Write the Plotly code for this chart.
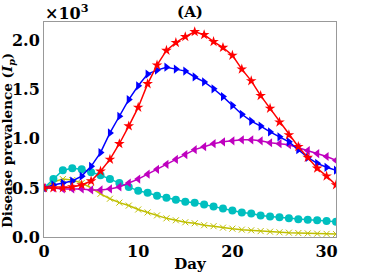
import plotly.graph_objects as go

days = list(range(32))
red = [0.5,0.5,0.5,0.51,0.53,0.57,0.67,0.79,0.95,1.13,1.32,1.56,1.75,1.90,1.98,2.04,2.09,2.06,1.99,1.93,1.85,1.71,1.59,1.44,1.31,1.17,1.04,0.92,0.81,0.70,0.62,0.53]
blue = [0.5,0.53,0.55,0.57,0.62,0.72,0.86,1.06,1.23,1.40,1.54,1.66,1.70,1.73,1.71,1.69,1.63,1.58,1.51,1.43,1.34,1.25,1.18,1.13,1.07,1.02,0.97,0.89,0.81,0.75,0.71,0.68]
magenta = [0.5,0.5,0.49,0.49,0.49,0.48,0.48,0.49,0.51,0.55,0.59,0.64,0.69,0.74,0.79,0.84,0.89,0.92,0.95,0.97,0.98,0.99,0.99,0.98,0.96,0.95,0.94,0.91,0.88,0.85,0.82,0.78]
cyan = [0.5,0.59,0.68,0.70,0.69,0.66,0.63,0.59,0.55,0.51,0.47,0.45,0.42,0.40,0.38,0.36,0.35,0.33,0.31,0.29,0.27,0.25,0.24,0.22,0.21,0.20,0.19,0.18,0.175,0.17,0.163,0.155]
yellow = [0.5,0.56,0.59,0.58,0.55,0.50,0.44,0.39,0.35,0.32,0.28,0.25,0.22,0.19,0.17,0.15,0.14,0.12,0.11,0.095,0.085,0.075,0.068,0.06,0.054,0.048,0.044,0.04,0.037,0.034,0.032,0.03]

y_ticks = [0, 0.5, 1.0, 1.5, 2.0]
x_ticks = [0, 10, 20, 30]

FONT = "DejaVu Serif"

fig = go.Figure()

def add(y, color, symbol, size, mline=None):
    marker = dict(symbol=symbol, size=size, color=color)
    if mline:
        marker["line"] = dict(color=mline, width=1)
    fig.add_trace(go.Scatter(x=days, y=y, mode="lines+markers",
                             line=dict(color=color, width=1.5),
                             marker=marker, showlegend=False, cliponaxis=True))

add(yellow, "#bfbf00", "x-thin-open", 6, mline="#dede66")
add(cyan, "#00bfbf", "circle", 8)
add(magenta, "#bf00bf", "triangle-left", 8)
add(blue, "#0000ff", "triangle-right", 8)
add(red, "#ff0000", "star", 8)

fig.update_layout(
    width=374, height=273,
    margin=dict(l=44, r=38, t=22, b=36),
    paper_bgcolor="white", plot_bgcolor="white",
    font=dict(family=FONT, size=16, color="black", weight="bold"),
    title=dict(text="(A)", x=0.508, xanchor="center", y=0.975, yanchor="top",
               font=dict(family=FONT, size=15, weight="bold")),
    xaxis=dict(range=[0, 31], tickvals=x_ticks, showgrid=False, zeroline=False,
               showline=True, linecolor="#999999", linewidth=1, mirror=True, automargin=False,
               ticks="", ticklen=0, tickfont=dict(family=FONT, size=16, weight="bold"),
               title=dict(text="Day", standoff=0, font=dict(family=FONT, size=15, weight="bold"))),
    yaxis=dict(range=[0, 2.19], tickvals=y_ticks, tickformat=".1f", showgrid=False, zeroline=False,
               showline=True, linecolor="#999999", linewidth=1, mirror=True, automargin=False,
               ticks="", ticklen=0, tickfont=dict(family=FONT, size=16, weight="bold")),
    annotations=[
        dict(text="×10<sup>3</sup>", xref="paper", yref="paper", x=-0.005, y=1.0,
             xanchor="left", yanchor="bottom", yshift=-3, showarrow=False,
             font=dict(family=FONT, size=16, weight="bold")),
        dict(text="Disease prevalence (<i>I<sub>p</sub></i>)", xref="paper", yref="paper",
             x=-0.121, y=0.45, xanchor="center", yanchor="middle", textangle=-90,
             showarrow=False, font=dict(family=FONT, size=13.5, weight="bold")),
    ],
)

fig.write_html("out.html", config={"displayModeBar": False},
               post_script="document.body.style.margin='0';")
